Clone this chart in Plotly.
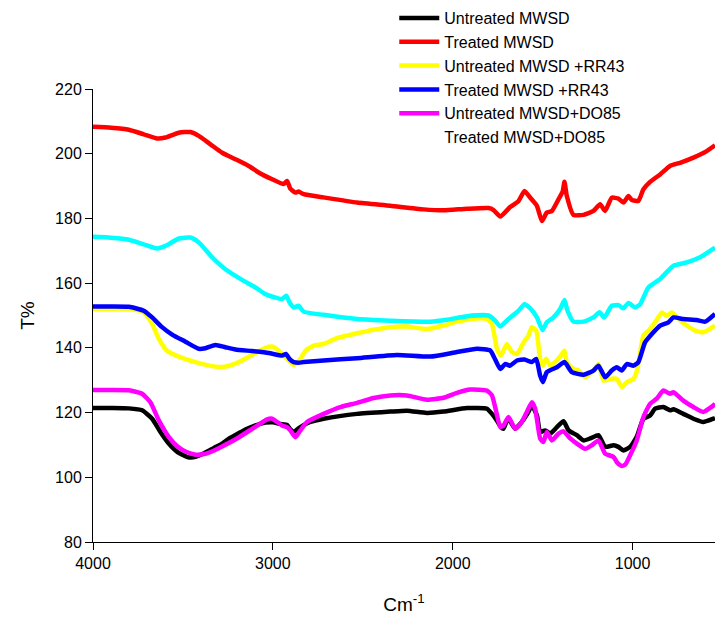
import plotly.graph_objects as go

# ---------------- data ----------------
wn_untreated = [4000, 3900, 3801, 3727, 3671, 3625, 3580, 3530, 3470, 3430, 3380, 3330, 3280, 3246, 3200,
                3153, 3100, 3042, 3000, 2960, 2921, 2903, 2884, 2860, 2847, 2792, 2718, 2532, 2347, 2255,
                2144, 2051, 1921, 1810, 1782, 1754, 1732, 1718, 1699, 1690, 1653, 1616, 1579, 1560, 1532,
                1514, 1486, 1458, 1421, 1384, 1356, 1310, 1273, 1236, 1190, 1153, 1106, 1079, 1051, 1014,
                977, 940, 903, 875, 829, 792, 773, 718, 662, 607, 551, 542]
t_untreated = [121.4, 121.4, 121.3, 120.7, 118.1, 114.0, 110.5, 107.8, 106.2, 106.3, 107.5, 109.0, 110.5, 111.9, 113.3,
               114.8, 116.0, 116.9, 117.0, 116.5, 116.2, 114.8, 114.0, 115.0, 115.5, 117.1, 118.1, 119.6, 120.3, 120.6,
               119.9, 120.3, 121.4, 121.2, 119.6, 117.5, 115.5, 115.0, 117.5, 118.1, 115.0, 117.1, 120.2, 122.2, 119.1,
               114.0, 114.5, 113.5, 115.5, 117.3, 114.5, 113.0, 111.4, 112.0, 113.0, 109.4, 109.9, 109.4, 108.3, 109.4,
               112.5, 118.1, 119.1, 121.2, 121.7, 120.7, 121.0, 119.6, 118.1, 117.1, 118.1, 118.3]

wn_treated = [4000, 3900, 3801, 3718, 3643, 3597, 3523, 3458, 3412, 3347, 3282, 3208, 3134, 3079, 3004,
              2940, 2921, 2903, 2875, 2857, 2829, 2718, 2532, 2347, 2162, 2051, 1921, 1801, 1773, 1736,
              1681, 1634, 1601, 1569, 1532, 1504, 1477, 1449, 1412, 1388, 1379, 1366, 1329, 1273, 1218,
              1181, 1153, 1116, 1079, 1051, 1023, 1004, 968, 940, 903, 847, 792, 736, 662, 588, 542]
t_treated = [208.3, 208.0, 207.4, 206.0, 204.7, 205.0, 206.5, 206.7, 205.5, 202.9, 200.3, 198.3, 196.2, 194.2, 192.1,
             190.6, 191.6, 189.2, 188.0, 188.3, 187.5, 186.5, 184.9, 183.9, 182.8, 182.5, 183.0, 183.2, 182.6, 180.6,
             183.5, 185.4, 188.5, 186.4, 183.9, 179.2, 181.8, 182.3, 185.9, 188.5, 191.3, 187.0, 181.1, 181.1, 182.3,
             184.4, 182.3, 186.4, 186.1, 184.9, 186.9, 185.7, 185.4, 189.0, 191.3, 193.6, 196.2, 197.2, 198.8, 200.8, 202.6]

wn_untreated_rr43 = [4000, 3900, 3801, 3718, 3671, 3634, 3588, 3523, 3430, 3319, 3264, 3190, 3116, 3042, 3004,
                     2967, 2921, 2884, 2847, 2819, 2773, 2718, 2643, 2532, 2440, 2347, 2255, 2144, 2051, 1977,
                     1866, 1810, 1782, 1754, 1732, 1699, 1671, 1643, 1606, 1579, 1560, 1536, 1514, 1499, 1481,
                     1458, 1431, 1399, 1379, 1366, 1329, 1301, 1264, 1218, 1190, 1162, 1125, 1088, 1060, 1032,
                     995, 973, 940, 912, 875, 838, 810, 782, 745, 699, 653, 607, 542]
t_untreated_rr43 = [152.0, 152.0, 152.0, 151.0, 147.4, 142.8, 139.1, 137.3, 135.6, 134.2, 134.2, 135.6, 137.8, 140.0, 140.4,
                    139.1, 136.6, 134.7, 136.6, 139.1, 140.7, 141.2, 143.0, 144.5, 145.6, 146.4, 146.6, 145.8, 146.9, 148.1,
                    149.1, 148.9, 147.4, 139.7, 137.6, 141.2, 138.7, 138.1, 141.7, 143.8, 146.4, 145.3, 136.6, 134.5, 136.6,
                    134.5, 135.6, 137.6, 139.1, 135.6, 133.5, 133.0, 130.9, 133.0, 135.0, 129.9, 130.4, 130.4, 127.9, 129.4,
                    130.4, 133.5, 143.8, 145.3, 147.9, 150.9, 149.9, 150.9, 148.9, 146.9, 145.3, 144.8, 146.9]

wn_treated_rr43 = [4000, 3900, 3801, 3718, 3671, 3616, 3560, 3486, 3412, 3375, 3319, 3264, 3208, 3116, 3023,
                   2949, 2927, 2908, 2884, 2857, 2829, 2718, 2532, 2310, 2125, 1977, 1866, 1792, 1764, 1736,
                   1708, 1681, 1643, 1601, 1560, 1536, 1514, 1499, 1477, 1421, 1379, 1338, 1273, 1218, 1190,
                   1153, 1116, 1088, 1060, 1032, 995, 968, 931, 893, 847, 801, 773, 718, 644, 597, 542]
t_treated_rr43 = [152.8, 152.8, 152.7, 151.5, 149.4, 146.4, 144.1, 141.9, 139.7, 139.9, 140.9, 140.2, 139.5, 139.0, 138.4,
                  137.6, 138.1, 136.6, 135.6, 135.4, 135.6, 136.1, 136.8, 137.8, 137.3, 138.7, 139.7, 139.2, 136.4, 133.5,
                  135.0, 134.5, 136.1, 136.4, 135.6, 136.6, 131.4, 129.4, 132.5, 134.0, 135.6, 132.5, 131.7, 133.0, 134.5,
                  130.9, 133.0, 134.0, 133.0, 135.0, 134.5, 135.6, 141.7, 144.3, 146.9, 147.9, 149.4, 148.9, 148.6, 148.1, 150.5]

wn_untreated_do85 = [4000, 3900, 3801, 3727, 3681, 3634, 3579, 3530, 3480, 3430, 3380, 3330, 3280, 3200, 3100,
                     3032, 3004, 2949, 2921, 2903, 2875, 2847, 2810, 2718, 2625, 2532, 2440, 2347, 2255, 2144,
                     2051, 1977, 1903, 1810, 1782, 1758, 1736, 1718, 1690, 1653, 1616, 1588, 1560, 1542, 1514,
                     1496, 1477, 1449, 1412, 1384, 1347, 1310, 1264, 1227, 1190, 1153, 1106, 1085, 1060, 1040,
                     1014, 977, 940, 903, 866, 829, 792, 773, 718, 662, 607, 551, 542]
t_untreated_do85 = [127.0, 127.0, 126.9, 125.8, 123.2, 117.6, 112.5, 109.5, 107.8, 107.0, 107.2, 108.2, 109.6, 112.0, 115.5,
                    117.9, 118.1, 116.0, 115.5, 114.5, 112.4, 114.5, 117.1, 119.6, 121.7, 123.0, 124.5, 125.3, 125.3, 124.0,
                    124.6, 126.1, 127.1, 126.8, 125.3, 120.2, 115.5, 116.0, 118.6, 115.0, 117.1, 120.2, 123.2, 121.2, 112.0,
                    110.9, 114.0, 111.4, 113.5, 114.2, 112.0, 110.4, 108.8, 109.9, 111.4, 107.3, 106.3, 104.5, 103.5, 104.0,
                    106.8, 111.4, 118.6, 122.7, 124.3, 126.8, 125.8, 126.3, 123.7, 121.7, 120.2, 122.2, 122.8]

wn_treated_do85 = [4000, 3900, 3801, 3718, 3643, 3597, 3523, 3458, 3412, 3338, 3264, 3171, 3097, 3042, 2949,
                   2925, 2908, 2884, 2857, 2829, 2718, 2532, 2347, 2125, 2032, 1921, 1801, 1764, 1736, 1690,
                   1634, 1601, 1569, 1532, 1501, 1477, 1440, 1403, 1379, 1362, 1329, 1273, 1218, 1184, 1158,
                   1116, 1079, 1051, 1023, 986, 958, 912, 847, 773, 699, 625, 542]
t_treated_do85 = [174.3, 174.0, 173.4, 172.0, 170.7, 171.5, 173.8, 174.1, 172.6, 168.0, 164.3, 161.0, 158.7, 156.6, 155.1,
                  156.1, 154.1, 152.5, 153.0, 151.2, 150.2, 148.9, 148.4, 148.1, 148.7, 149.8, 150.0, 148.4, 146.6, 148.9,
                  151.5, 153.5, 152.2, 149.4, 145.5, 147.9, 149.4, 152.0, 154.8, 151.5, 148.1, 148.1, 149.4, 151.0, 149.4,
                  153.0, 153.2, 152.2, 153.9, 152.5, 153.5, 158.7, 161.3, 165.4, 166.4, 168.0, 171.0]

series_names = ["Untreated MWSD", "Treated MWSD", "Untreated MWSD +RR43",
                "Treated MWSD +RR43", "Untreated MWSD+DO85", "Treated MWSD+DO85"]
series_colors = ["#000000", "#FF0000", "#FFFF00", "#0000FF", "#FF00FF", "#00FFFF"]
series_x = [wn_untreated, wn_treated, wn_untreated_rr43, wn_treated_rr43, wn_untreated_do85, wn_treated_do85]
series_y = [t_untreated, t_treated, t_untreated_rr43, t_treated_rr43, t_untreated_do85, t_treated_do85]

y_ticks = [80, 100, 120, 140, 160, 180, 200, 220]
x_ticks = [4000, 3000, 2000, 1000]

FONT = "Arial, Liberation Sans, sans-serif"

fig = go.Figure()
for i, (name, col, xs, ys) in enumerate(zip(series_names, series_colors, series_x, series_y)):
    last = (i == len(series_names) - 1)
    fig.add_trace(go.Scatter(
        x=xs, y=ys, mode="lines", name=name,
        line=dict(color=col, width=4.5, shape="spline", smoothing=0.5),
        showlegend=not last,
    ))
# legend entry for the last series has no visible swatch in the reference
fig.add_trace(go.Scatter(x=[None], y=[None], mode="lines", name=series_names[-1],
                         line=dict(color="rgba(255,255,255,0)", width=4.5), showlegend=True,
                         hoverinfo="skip"))

W, H = 715, 620
ml, mr, mt, mb = 92.5, 0, 89, 77.5
pw = W - ml - mr
ph = H - mt - mb

fig.update_layout(
    width=W, height=H,
    margin=dict(l=ml, r=mr, t=mt, b=mb, pad=0),
    paper_bgcolor="white", plot_bgcolor="white",
    font=dict(family=FONT, size=16, color="black"),
    showlegend=True,
    legend=dict(
        x=(394 - ml) / pw, xanchor="left",
        y=(H - mb - 1) / ph, yanchor="top",
        font=dict(family=FONT, size=16, color="black"),
        bgcolor="rgba(0,0,0,0)", borderwidth=0,
        tracegroupgap=0, itemwidth=40,
    ),
    xaxis=dict(
        range=[4000, 542], autorange=False,
        tickmode="array", tickvals=x_ticks, ticktext=[str(v) for v in x_ticks],
        showgrid=False, zeroline=False,
        showline=True, linecolor="black", linewidth=1,
        ticks="outside", ticklen=7, tickcolor="black", tickwidth=1,
        tickfont=dict(family=FONT, size=16, color="black"),
        title=dict(text="Cm<sup>-1</sup>", font=dict(family=FONT, size=19, color="black"), standoff=26),
    ),
    yaxis=dict(
        range=[80, 220], autorange=False,
        tickmode="array", tickvals=y_ticks, ticktext=[str(v) for v in y_ticks],
        showgrid=False, zeroline=False,
        showline=True, linecolor="black", linewidth=1,
        ticks="outside", ticklen=7, tickcolor="black", tickwidth=1,
        tickfont=dict(family=FONT, size=16, color="black"),
        title=dict(text="T%", font=dict(family=FONT, size=19, color="black"), standoff=15),
    ),
)

fig.write_html("out.html")
